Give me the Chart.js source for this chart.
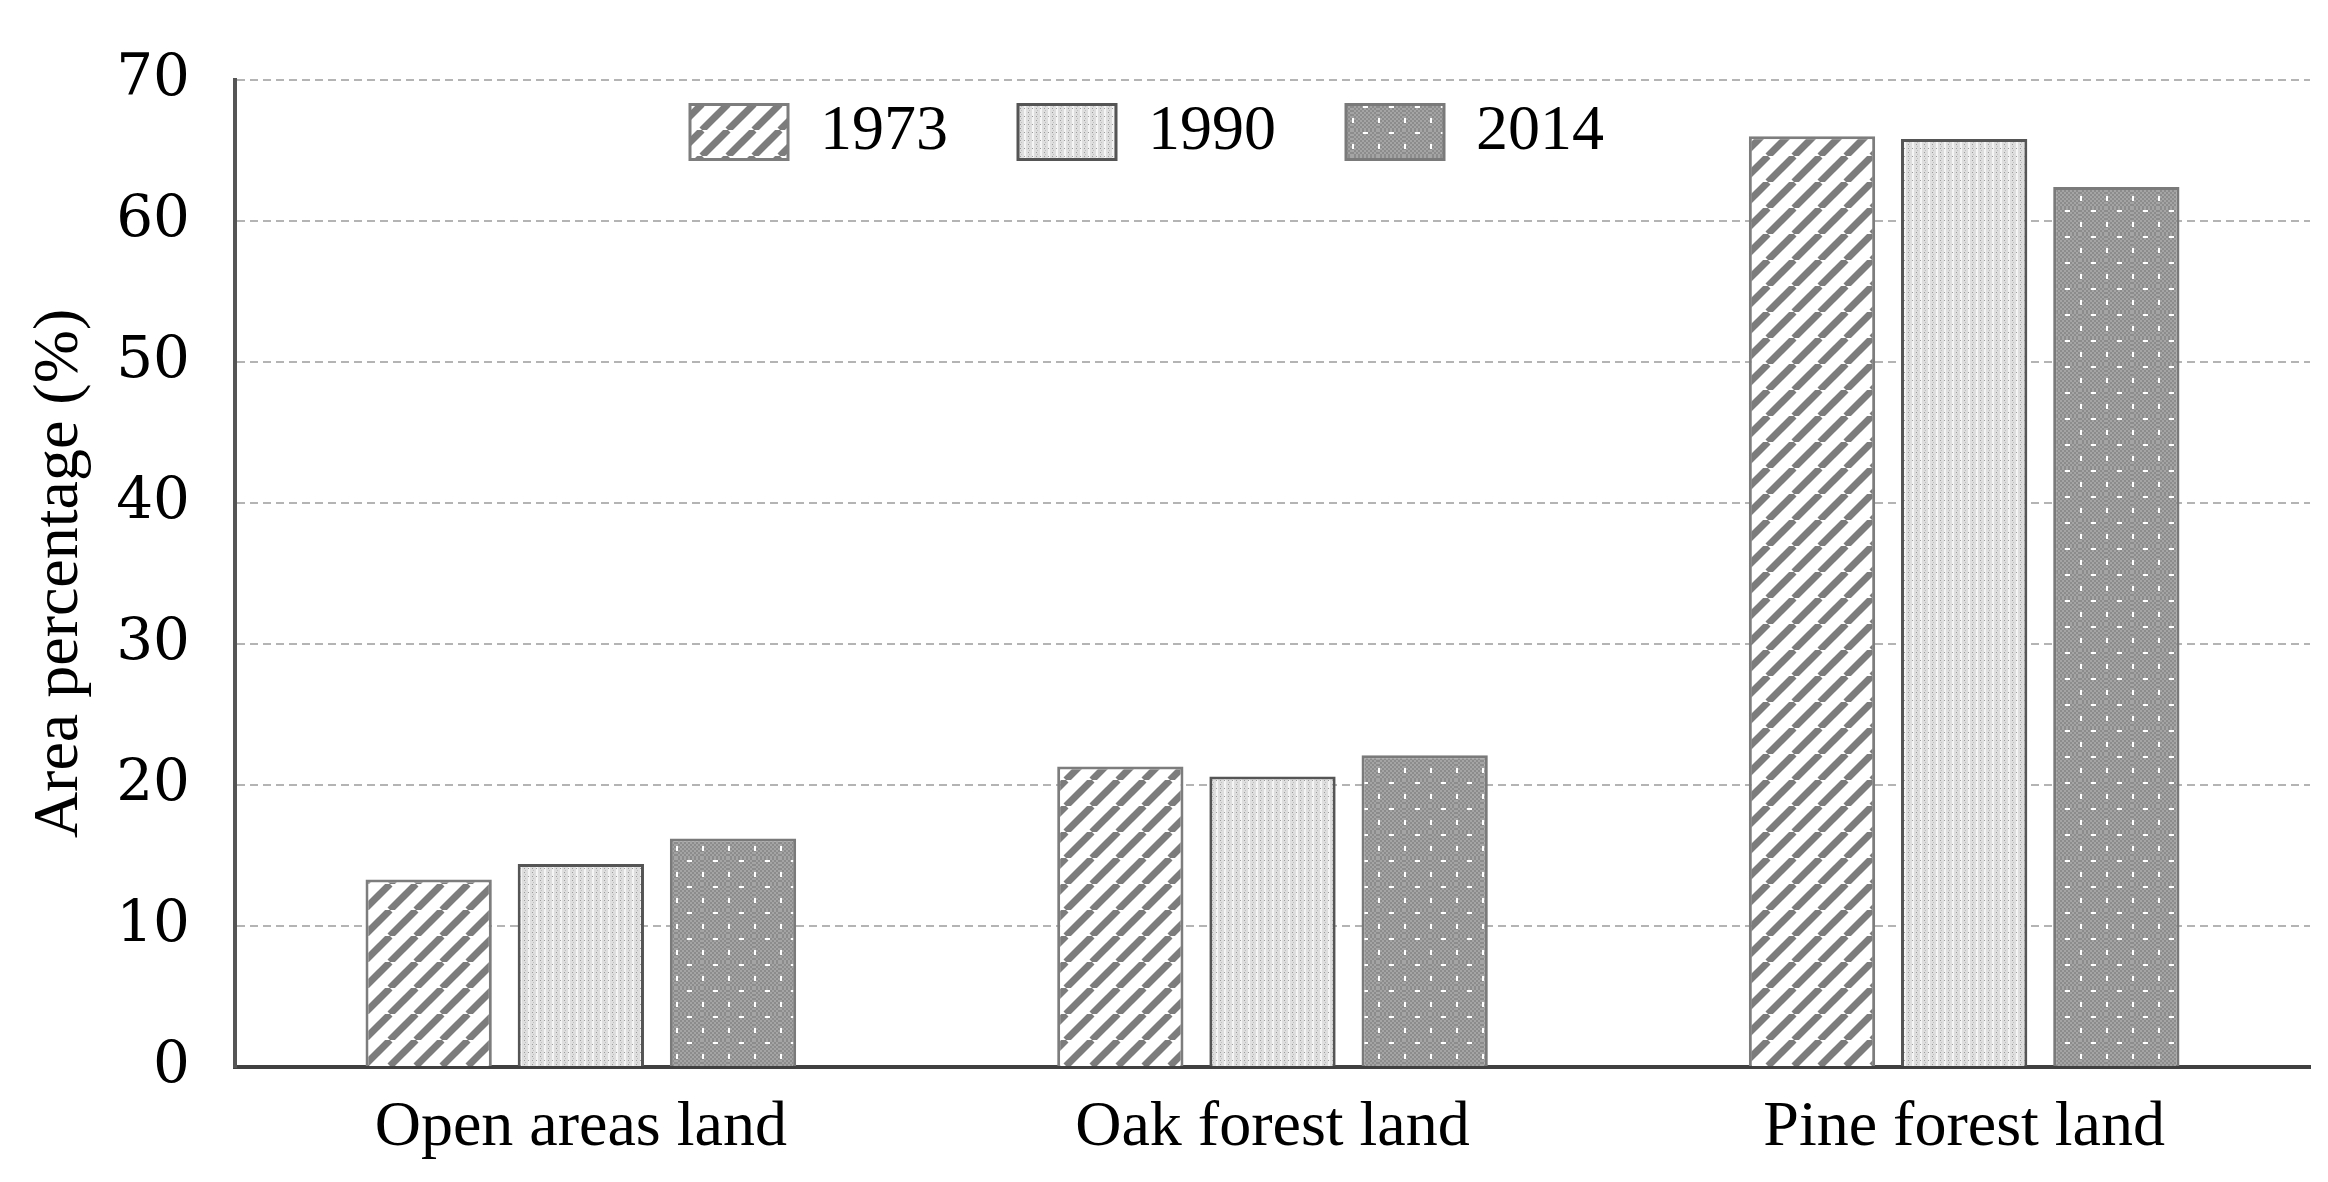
<!DOCTYPE html>
<html>
<head>
<meta charset="utf-8">
<script src="https://cdn.jsdelivr.net/npm/chart.js@4/dist/chart.umd.min.js"></script>
<style>
  html, body { margin: 0; padding: 0; background: #fff; }
  #wrap { position: relative; width: 2328px; height: 1182px; }
</style>
</head>
<body>
<div id="wrap"><canvas id="chart"></canvas></div>
<script>
const categories = ['Open areas land', 'Oak forest land', 'Pine forest land'];
const years = ['1973', '1990', '2014'];
const values1973 = [13.3, 21.3, 66.0];
const values1990 = [14.4, 20.6, 65.8];
const values2014 = [16.2, 22.1, 62.4];
const yTicks = [0, 10, 20, 30, 40, 50, 60, 70];

const FONT = "'Liberation Serif', 'Times New Roman', serif";

// fill patterns like the old office hatches
function makeTile(w, h, paint) {
  const c = document.createElement('canvas');
  c.width = w; c.height = h;
  const g = c.getContext('2d');
  paint(g, w, h);
  return g.createPattern(c, 'repeat');
}

const stripes = makeTile(26, 26, (g, w, h) => {
  g.fillStyle = '#ffffff';
  g.fillRect(0, 0, w, h);
  g.strokeStyle = '#7c7c7c';
  g.lineWidth = 7;
  for (const off of [-w, 0, w]) {
    g.beginPath();
    g.moveTo(off, h);
    g.lineTo(off + w, 0);
    g.stroke();
  }
});

const lightDots = makeTile(8, 8, (g, w, h) => {
  g.fillStyle = '#dedede';
  g.fillRect(0, 0, w, h);
  g.fillStyle = '#f4f4f4';
  g.fillRect(0, 0, 2, h);
  g.fillStyle = '#9c9c9c';
  g.fillRect(4, 0, 1, 1);
  g.fillRect(4, 4, 1, 1);
  g.fillRect(0, 4, 1, 1);
  g.fillStyle = '#c0c0c0';
  g.fillRect(5, 2, 1, 1);
  g.fillRect(5, 6, 1, 1);
});

const darkDots = makeTile(26, 26, (g, w, h) => {
  g.fillStyle = '#8c8c8c';
  g.fillRect(0, 0, w, h);
  for (let y = 0; y < h; y += 2) {
    for (let x = (y / 2) % 2 * 2; x < w; x += 4) {
      g.fillStyle = '#a4a4a4';
      g.fillRect(x, y, 2, 2);
    }
  }
  g.fillStyle = '#ffffff';
  g.fillRect(11, 2, 5, 2);
  g.fillRect(0, 14, 2, 5);
});

// legend sits inside the plot, near the top
const legendSpot = {
  id: 'legendSpot',
  afterLayout(chart) {
    const lg = chart.legend;
    const pad = lg.options.labels.padding;
    const dx = 690 - (lg.left + pad);
    const dy = 100 - (lg.top + pad);
    lg.left += dx;
    lg.right += dx;
    lg.top += dy;
    lg.bottom = lg.top + 200;
    lg.height = 200;
  }
};

new Chart(document.getElementById('chart'), {
  type: 'bar',
  data: {
    labels: categories,
    datasets: [
      { label: years[0], data: values1973, backgroundColor: stripes, borderColor: '#7d7d7d', borderWidth: 3 },
      { label: years[1], data: values1990, backgroundColor: lightDots, borderColor: '#555555', borderWidth: 3 },
      { label: years[2], data: values2014, backgroundColor: darkDots, borderColor: '#7a7a7a', borderWidth: 3 }
    ]
  },
  options: {
    responsive: true,
    maintainAspectRatio: false,
    animation: false,
    layout: { padding: { top: 65, right: 18, bottom: 0, left: 0 } },
    datasets: {
      bar: { categoryPercentage: 0.66, barPercentage: 0.83 }
    },
    plugins: {
      legend: {
        position: 'top',
        align: 'start',
        maxHeight: 1,
        labels: {
          boxWidth: 98,
          boxHeight: 55,
          padding: 70,
          color: '#000',
          font: { family: FONT, size: 64 }
        }
      },
      tooltip: { enabled: false }
    },
    scales: {
      x: {
        grid: { display: false },
        border: { display: true, color: '#404040', width: 4 },
        ticks: { color: '#000', padding: 15, font: { family: FONT, size: 64 } },
        afterFit(scale) { scale.height = 115; }
      },
      y: {
        min: 0,
        max: 70,
        afterBuildTicks(scale) { scale.ticks = yTicks.map(v => ({ value: v })); },
        grid: {
          drawTicks: false,
          lineWidth: 2,
          color: ctx => (ctx.tick && ctx.tick.value === 0 ? 'rgba(0,0,0,0)' : '#b4b4b4')
        },
        border: { display: true, color: '#555555', width: 4, dash: [8, 5] },
        ticks: { color: '#000', padding: 45, font: { family: "'DejaVu Serif', serif", size: 58 } },
        title: {
          display: true,
          text: 'Area percentage (%)',
          color: '#000',
          padding: { top: 22, bottom: 0 },
          font: { family: FONT, size: 64 }
        },
        afterFit(scale) { scale.width = 235; }
      }
    }
  },
  plugins: [legendSpot]
});
</script>
</body>
</html>
